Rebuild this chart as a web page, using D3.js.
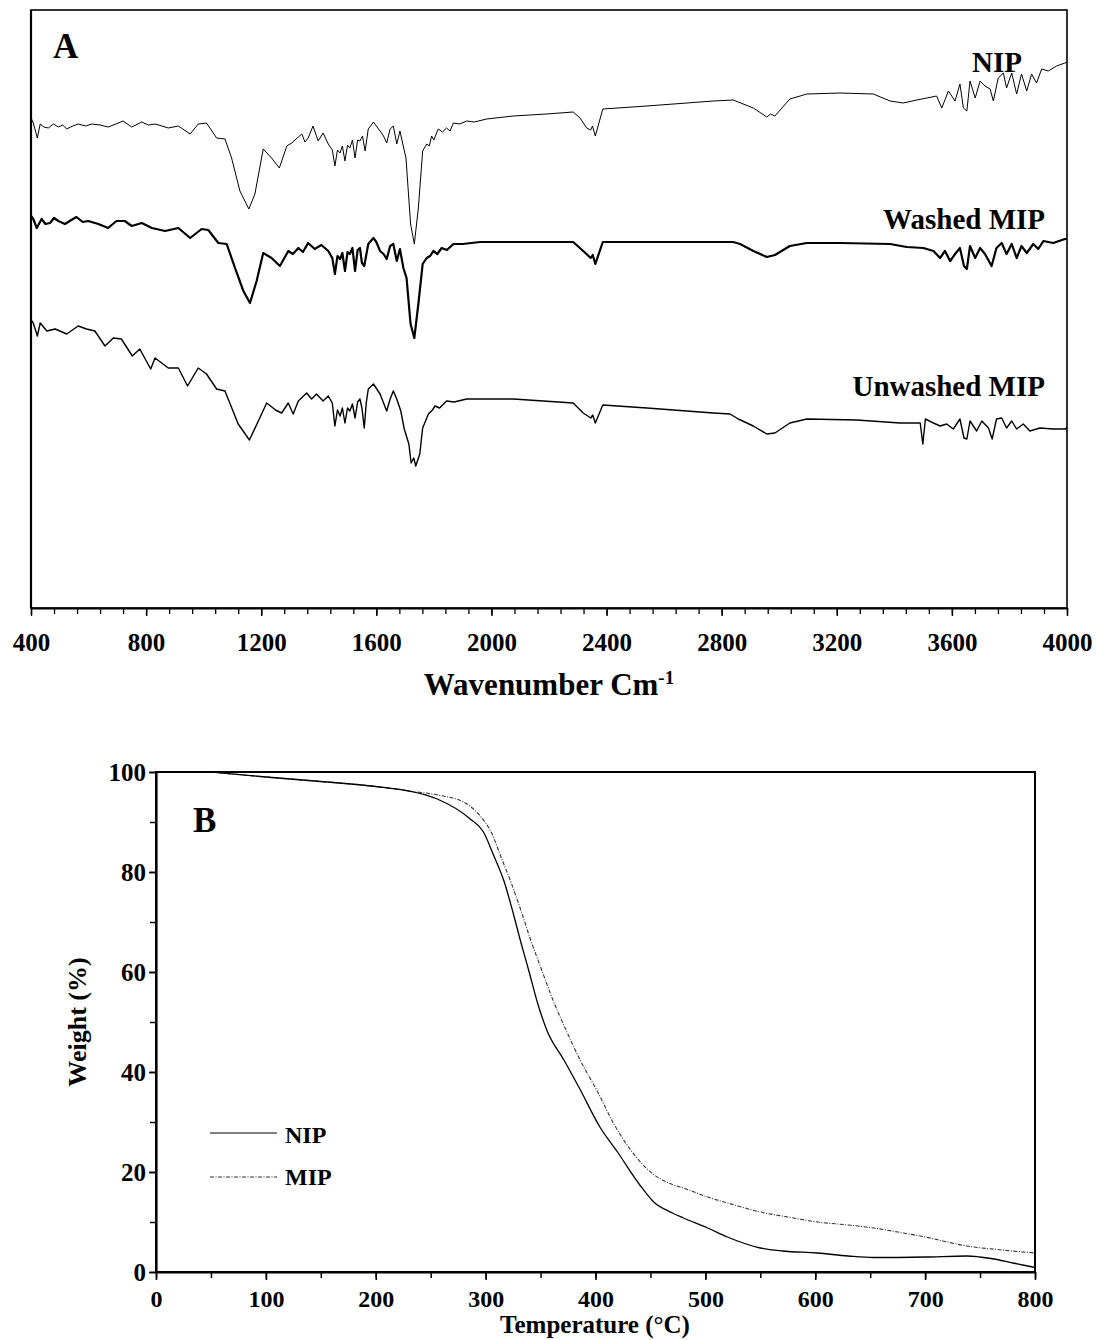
<!DOCTYPE html>
<html><head><meta charset="utf-8">
<script src="https://cdn.jsdelivr.net/npm/d3@7"></script>
<style>
body{margin:0;background:#fff}
text{font-family:"Liberation Serif","Times New Roman",serif;font-weight:bold;fill:#000}
</style>
</head><body>
<svg id="c" width="1097" height="1340"></svg>
<script>
// ---------- Panel A: FTIR (wavenumber, relative transmittance a.u.) ----------
const ftirMajorTicks = [400,800,1200,1600,2000,2400,2800,3200,3600,4000];
const ftirLabels = ["NIP","Washed MIP","Unwashed MIP"];

const nipFTIR = [[400,490],[408,485],[422,470],[432,484],[445,481],[460,480],[478,484],[495,481],[510,483],[524,479],[545,482],[564,484],[590,482],[611,484],[640,483],[668,481],[695,484],[720,487],[750,481],[785,486],[808,483],[831,484],[855,482],[877,480],[912,482],[953,474],[981,484],[1010,485],[1045,470],[1074,469],[1097,450],[1126,417],[1157,399],[1178,414],[1207,459],[1236,450],[1263,440],[1289,462],[1306,465],[1325,470],[1341,474],[1352,466],[1363,470],[1380,482],[1398,467],[1415,475],[1433,464],[1447,458],[1456,442],[1465,458],[1474,455],[1482,462],[1491,447],[1500,463],[1508,460],[1517,468],[1526,450],[1535,468],[1543,467],[1552,472],[1561,457],[1572,479],[1590,486],[1600,482],[1613,477],[1625,472],[1636,465],[1648,479],[1659,482],[1671,464],[1682,477],[1692,464],[1703,450],[1719,384],[1732,364],[1746,400],[1761,457],[1775,464],[1784,462],[1792,472],[1800,468],[1815,479],[1830,476],[1844,480],[1856,477],[1868,485],[1890,484],[1914,487],[1940,486],[1984,489],[2076,492],[2192,494],[2284,496],[2308,490],[2331,480],[2345,478],[2351,482],[2361,472],[2387,499],[2540,502],[2771,507],[2840,508],[2910,500],[2957,491],[2970,494],[2985,492],[3037,509],[3096,514],[3211,515],[3327,514],[3385,507],[3431,505],[3478,508],[3513,510],[3547,512],[3565,500],[3588,517],[3611,507],[3628,524],[3640,500],[3652,497],[3663,527],[3681,510],[3698,527],[3715,522],[3733,519],[3744,507],[3761,530],[3779,535],[3790,520],[3808,535],[3825,514],[3842,534],[3860,517],[3877,534],[3894,525],[3912,539],[3935,537],[3964,542],[3993,545],[4000,546]];

const washedFTIR = [[400,392],[408,389],[420,380],[437,389],[450,384],[466,385],[480,390],[495,387],[518,384],[540,388],[558,391],[580,386],[599,387],[634,384],[668,380],[697,387],[726,387],[750,382],[785,385],[820,380],[866,377],[912,380],[953,370],[993,379],[1016,378],[1051,365],[1080,364],[1109,340],[1138,317],[1161,305],[1184,327],[1207,355],[1236,350],[1265,342],[1294,357],[1310,354],[1329,360],[1345,356],[1363,365],[1386,359],[1409,363],[1433,357],[1447,350],[1456,334],[1465,352],[1474,349],[1482,355],[1491,337],[1500,356],[1508,354],[1517,360],[1526,337],[1535,358],[1543,360],[1550,345],[1558,342],[1572,364],[1590,370],[1600,366],[1613,357],[1625,354],[1636,349],[1648,362],[1659,364],[1671,347],[1682,359],[1694,340],[1705,330],[1719,284],[1732,270],[1746,304],[1761,344],[1775,350],[1787,352],[1798,357],[1812,354],[1827,360],[1845,358],[1868,364],[1900,364],[1961,366],[2284,366],[2319,357],[2345,350],[2352,353],[2361,344],[2387,366],[2840,366],[2864,364],[2910,357],[2957,351],[2985,353],[3037,362],[3096,365],[3211,365],[3385,364],[3443,361],[3501,360],[3536,357],[3559,350],[3576,357],[3594,347],[3611,354],[3628,360],[3642,342],[3652,339],[3663,362],[3681,350],[3698,360],[3715,354],[3738,342],[3755,360],[3773,365],[3790,354],[3808,364],[3825,350],[3842,362],[3860,355],[3883,364],[3900,359],[3918,367],[3952,365],[3993,369],[4000,369]];

const unwashedFTIR = [[400,288],[408,285],[422,272],[432,285],[455,277],[484,279],[524,274],[564,282],[593,279],[622,277],[657,262],[686,270],[714,269],[752,252],[778,259],[816,239],[831,250],[877,240],[912,240],[944,222],[981,240],[1010,234],[1045,219],[1074,217],[1120,184],[1159,168],[1190,187],[1219,205],[1250,198],[1271,195],[1294,205],[1311,194],[1329,207],[1358,215],[1375,209],[1392,214],[1415,207],[1433,212],[1447,205],[1456,182],[1465,198],[1474,192],[1482,200],[1491,185],[1500,200],[1508,197],[1517,204],[1526,190],[1535,206],[1543,209],[1550,200],[1558,180],[1565,205],[1572,219],[1590,224],[1613,214],[1636,197],[1648,209],[1659,217],[1671,209],[1685,197],[1697,179],[1713,164],[1721,145],[1730,150],[1737,142],[1751,154],[1761,180],[1781,194],[1795,198],[1804,202],[1820,200],[1844,207],[1870,206],[1914,209],[2076,209],[2284,205],[2319,195],[2345,190],[2352,193],[2361,185],[2387,203],[2540,200],[2771,195],[2829,194],[2858,189],[2910,182],[2957,174],[2985,175],[3037,185],[3096,189],[3269,188],[3420,185],[3490,185],[3499,164],[3508,189],[3536,185],[3559,182],[3582,184],[3605,179],[3628,189],[3642,170],[3652,169],[3663,187],[3686,177],[3704,187],[3727,180],[3740,169],[3755,189],[3773,190],[3790,180],[3808,187],[3825,179],[3848,184],[3871,177],[3906,180],[3952,179],[3993,179],[4000,180]];

// ---------- Panel B: TGA (temperature °C, weight %) ----------
const tgaXTicks = [0,100,200,300,400,500,600,700,800];
const tgaYTicks = [0,20,40,60,80,100];
const tgaNIP = [[50,100],[100,99],[150,98.1],[200,97.1],[230,96.2],[256,94.6],[286,90.6],[298,88],[307,83.5],[317,78],[326,71],[332,66],[339,60.5],[347,54],[356,48.2],[371,42.5],[386,36.5],[404,29],[420,24],[440,17.5],[453,14],[470,11.8],[480,10.8],[502,8.8],[520,7],[550,4.8],[570,4.2],[602,3.8],[630,3.2],[653,2.9],[700,3],[738,3.2],[760,2.7],[780,1.8],[800,0.9]];
const tgaMIP = [[50,100],[100,99],[150,98.1],[200,97.1],[230,96.2],[259,95.3],[280,94],[295,91.2],[305,88],[314,83],[323,78],[332,72.4],[341,66.4],[350,61],[362,54],[374,48],[386,42.4],[402,36],[417,29.5],[430,25],[453,19.5],[470,17.5],[480,16.8],[502,15],[525,13.5],[550,12],[575,11],[602,10],[630,9.4],[653,8.8],[680,7.8],[700,7],[738,5.2],[770,4.4],[800,3.8]];
const tgaLegend = ["NIP","MIP"];

const svg = d3.select("#c");

// ===== Panel A =====
const A = {l:31, r:1067, t:10, b:608};
const xA = d3.scaleLinear().domain([400,4000]).range([A.l, A.r]);
const yA = d3.scaleLinear().domain([0,598]).range([A.b, A.t]);

svg.append("rect").attr("x",A.l).attr("y",A.t).attr("width",A.r-A.l).attr("height",A.b-A.t)
  .attr("fill","none").attr("stroke","#000").attr("stroke-width",1.6);
svg.append("line").attr("x1",A.l).attr("x2",A.l).attr("y1",A.t).attr("y2",A.b).attr("stroke","#000").attr("stroke-width",2.2);

const minorA = d3.range(400,4001,80);
svg.append("g").attr("transform",`translate(0,${A.b})`)
  .call(d3.axisBottom(xA).tickValues(minorA).tickSize(6).tickSizeOuter(0).tickFormat(""))
  .call(g=>g.select(".domain").remove())
  .call(g=>g.selectAll("line").attr("stroke-width",1.3));
const axA = svg.append("g").attr("transform",`translate(0,${A.b})`)
  .call(d3.axisBottom(xA).tickValues(ftirMajorTicks).tickSize(8).tickSizeOuter(0).tickPadding(17).tickFormat(d3.format("d")));
axA.select(".domain").attr("stroke-width",2.2);
axA.selectAll("line").attr("stroke-width",1.5);
axA.selectAll("text").style("font-size","25px").attr("fill","#000");

const lineA = d3.line().x(d=>xA(d[0])).y(d=>yA(d[1]));
[[nipFTIR,1.0],[washedFTIR,2.2],[unwashedFTIR,1.4]].forEach(([data,w])=>{
  svg.append("path").datum(data).attr("d",lineA).attr("fill","none")
    .attr("stroke","#000").attr("stroke-width",w).attr("stroke-linejoin","round");
});

svg.append("text").attr("x",53).attr("y",58).style("font-size","35px").text("A");
svg.append("text").attr("x",1022).attr("y",72).attr("text-anchor","end").style("font-size","29px").text(ftirLabels[0]);
svg.append("text").attr("x",1045).attr("y",229).attr("text-anchor","end").style("font-size","29px").text(ftirLabels[1]);
svg.append("text").attr("x",1045).attr("y",396).attr("text-anchor","end").style("font-size","29px").text(ftirLabels[2]);

const tA = svg.append("text").attr("x",549).attr("y",695).attr("text-anchor","middle").style("font-size","31px");
tA.append("tspan").text("Wavenumber Cm");
tA.append("tspan").attr("dy",-11).style("font-size","19px").text("-1");

// ===== Panel B =====
const B = {l:156, r:1035, t:772, b:1272};
const xB = d3.scaleLinear().domain([0,800]).range([B.l, B.r]);
const yB = d3.scaleLinear().domain([0,100]).range([B.b, B.t]);

svg.append("rect").attr("x",B.l).attr("y",B.t).attr("width",B.r-B.l).attr("height",B.b-B.t)
  .attr("fill","none").attr("stroke","#000").attr("stroke-width",2);

svg.append("g").attr("transform",`translate(0,${B.b})`)
  .call(d3.axisBottom(xB).tickValues(d3.range(0,801,50)).tickSize(6).tickSizeOuter(0).tickFormat(""))
  .call(g=>g.select(".domain").remove()).call(g=>g.selectAll("line").attr("stroke-width",1.5));
const axBx = svg.append("g").attr("transform",`translate(0,${B.b})`)
  .call(d3.axisBottom(xB).tickValues(tgaXTicks).tickSize(8).tickSizeOuter(0).tickPadding(10).tickFormat(d3.format("d")));
axBx.select(".domain").attr("stroke-width",2.2);
axBx.selectAll("line").attr("stroke-width",1.6);
axBx.selectAll("text").style("font-size","24px").attr("fill","#000");

svg.append("g").attr("transform",`translate(${B.l},0)`)
  .call(d3.axisLeft(yB).tickValues(d3.range(0,101,10)).tickSize(6).tickSizeOuter(0).tickFormat(""))
  .call(g=>g.select(".domain").remove()).call(g=>g.selectAll("line").attr("stroke-width",1.5));
const axBy = svg.append("g").attr("transform",`translate(${B.l},0)`)
  .call(d3.axisLeft(yB).tickValues(tgaYTicks).tickSize(7).tickSizeOuter(0).tickPadding(3).tickFormat(d3.format("d")));
axBy.select(".domain").attr("stroke-width",2.2);
axBy.selectAll("line").attr("stroke-width",1.6);
axBy.selectAll("text").style("font-size","25px").attr("fill","#000");

const lineB = d3.line().x(d=>xB(d[0])).y(d=>yB(d[1])).curve(d3.curveMonotoneX);
svg.append("path").datum(tgaMIP).attr("d",lineB).attr("fill","none")
  .attr("stroke","#333").attr("stroke-width",1.1).attr("stroke-dasharray","4,1.5,1,1.5");
svg.append("path").datum(tgaNIP).attr("d",lineB).attr("fill","none")
  .attr("stroke","#000").attr("stroke-width",1.3);

svg.append("text").attr("x",193).attr("y",832).style("font-size","35px").text("B");

// legend
svg.append("line").attr("x1",210).attr("x2",277).attr("y1",1133).attr("y2",1133).attr("stroke","#555").attr("stroke-width",1.3);
svg.append("text").attr("x",285).attr("y",1143).style("font-size","24px").text(tgaLegend[0]);
svg.append("line").attr("x1",210).attr("x2",277).attr("y1",1177).attr("y2",1177).attr("stroke","#333").attr("stroke-width",1.1).attr("stroke-dasharray","4,1.5,1,1.5");
svg.append("text").attr("x",285).attr("y",1185).style("font-size","24px").text(tgaLegend[1]);

svg.append("text").attr("text-anchor","middle").attr("transform","translate(86,1022) rotate(-90)")
  .style("font-size","26px").text("Weight (%)");
svg.append("text").attr("x",595).attr("y",1333).attr("text-anchor","middle").style("font-size","25px").text("Temperature (°C)");
</script>
</body></html>
